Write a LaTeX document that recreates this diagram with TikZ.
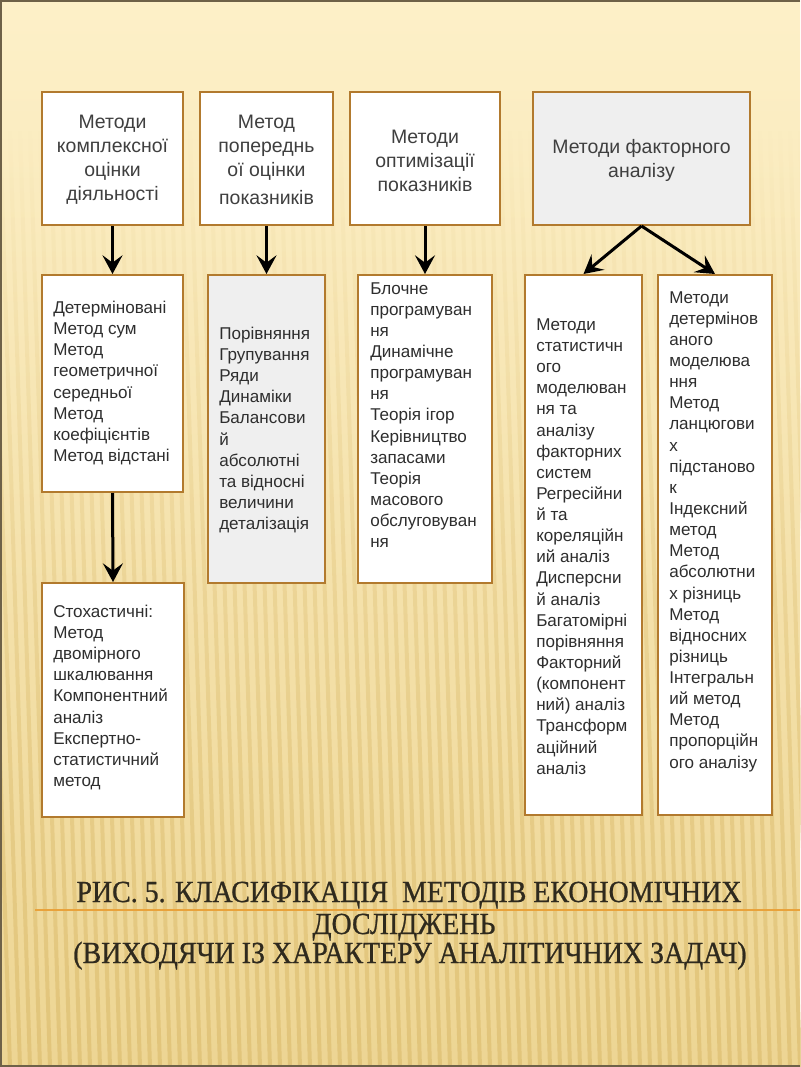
\documentclass[tikz,border=0pt]{standalone}
\usepackage{fontspec}
\setmainfont{Liberation Sans}
\newfontfamily\capfont[FakeStretch=0.91,FakeBold=0.8]{Liberation Serif}
\usetikzlibrary{arrows.meta,fit,fadings}
\definecolor{bgtop}{HTML}{FDF0C8}
\definecolor{bgmid}{HTML}{F9E7B4}
\definecolor{bgbot}{HTML}{EDD593}
\definecolor{stripec}{HTML}{DDBE70}
\definecolor{boxborder}{HTML}{B27A2E}
\definecolor{boxgray}{HTML}{EFEFEF}
\definecolor{txt}{HTML}{2E2E2E}
\definecolor{toptxt}{HTML}{3F3F3F}
\definecolor{captxt}{HTML}{2F2A1E}
\definecolor{rulec}{HTML}{E9A23B}
\definecolor{framec}{HTML}{6E6148}
\tikzfading[name=stripefade, top color=transparent!100, bottom color=transparent!0]
\begin{document}
\begin{tikzpicture}[x=0.75pt,y=-0.75pt,
  box/.style={draw=boxborder, line width=1.5pt, fill=white, inner sep=0pt},
  graybox/.style={box, fill=boxgray},
  toptext/.style={align=center, font=\fontsize{14.6}{18}\selectfont, text=toptxt, inner sep=0pt},
  bodytext/.style={align=left, anchor=west, font=\fontsize{12.8}{15.85}\selectfont, text=txt, inner sep=0pt},
  arr/.style={line width=2.25pt, -{Stealth[length=14pt,width=15pt,inset=5.5pt]}},
  captext/.style={font=\capfont\fontsize{23}{23}\selectfont, text=captxt, inner sep=0pt, anchor=base}
]
\useasboundingbox (0,0) rectangle (800,1067);
% background
\shade[top color=bgtop, middle color=bgmid, bottom color=bgbot] (0,0) rectangle (800,1067);
\foreach \x in {-30,-20,...,800} {
  \draw[stripec, line width=3pt, opacity=0.7, path fading=stripefade] (\x,130) -- (\x+30,1067);
}
\draw[framec, line width=1.5pt] (800,1) -- (1,1) -- (1,1066) -- (800,1066);

% top boxes
\node[box, fit={(42,92) (183,225)}] (b1) {};
\node[box, fit={(200,92) (333,225)}] (b2) {};
\node[box, fit={(350,92) (500,225)}] (b3) {};
\node[graybox, fit={(533,92) (750,225)}] (b4) {};

\node[toptext] (tb1) at (112.5,160) {Методи\\комплексної\\оцінки\\діяльності};
\node[toptext] (tb2) at (266.5,160) {Метод\\попереднь\\ої оцінки\\[3pt]показників};
\node[toptext] (tb3) at (425,161) {Методи\\оптимізації\\показників};
\node[toptext] (tb4) at (641.5,160) {Методи факторного\\аналізу};

% second row
\node[box, fit={(42,275) (183,492)}] (c1) {};
\node[graybox, fit={(208,275) (325,583)}] (c2) {};
\node[box, fit={(358,275) (492,583)}] (c3) {};
\node[box, fit={(525,275) (642,815)}] (c4) {};
\node[box, fit={(658,275) (772,815)}] (c5) {};
\node[box, fit={(42,583) (184,817)}] (d1) {};

\node[bodytext] (tc1) at (53,383) {Детерміновані\\Метод сум\\Метод\\геометричної\\середньої\\Метод\\коефіцієнтів\\Метод відстані};
\node[bodytext] (tc2) at (219,430) {Порівняння\\Групування\\Ряди\\Динаміки\\Балансови\\й\\абсолютні\\та відносні\\величини\\деталізація};
\node[bodytext] (tc3) at (370,415) {Блочне\\програмуван\\ня\\Динамічне\\програмуван\\ня\\Теорія ігор\\Керівництво\\запасами\\Теорія\\масового\\обслуговуван\\ня};
\node[bodytext] (tc4) at (536,546.5) {Методи\\статистичн\\ого\\моделюван\\ня та\\аналізу\\факторних\\систем\\Регресійни\\й та\\кореляційн\\ий аналіз\\Дисперсни\\й аналіз\\Багатомірні\\порівняння\\Факторний\\(компонент\\ний) аналіз\\Трансформ\\аційний\\аналіз};
\node[bodytext] (tc5) at (669,531.5) {Методи\\детермінов\\аного\\моделюва\\ння\\Метод\\ланцюгови\\х\\підстаново\\к\\Індексний\\метод\\Метод\\абсолютни\\х різниць\\Метод\\відносних\\різниць\\Інтегральн\\ий метод\\Метод\\пропорційн\\ого аналізу};
\node[bodytext] (td1) at (53,697.5) {Стохастичні:\\Метод\\двомірного\\шкалювання\\Компонентний\\аналіз\\Експертно-\\статистичний\\метод};

% arrows
\draw[arr] (b1.south) -- (c1.north);
\draw[arr] (b2.south) -- (c2.north);
\draw[arr] (b3.south) -- (c3.north);
\draw[arr] (b4.south) -- (c4.north);
\draw[arr] (b4.south) -- (c5.north);
\draw[arr] (c1.south) -- (d1.north);

% caption
\draw[rulec, line width=1.2pt] (35,910) -- (800,910);
\node[captext] (cap1) at (409,902) {РИС. 5. КЛАСИФІКАЦІЯ\ \ МЕТОДІВ ЕКОНОМІЧНИХ};
\node[captext] (cap2) at (404,934) {ДОСЛІДЖЕНЬ};
\node[captext] (cap3) at (410,963) {(ВИХОДЯЧИ ІЗ ХАРАКТЕРУ АНАЛІТИЧНИХ ЗАДАЧ)};
\end{tikzpicture}
\end{document}
